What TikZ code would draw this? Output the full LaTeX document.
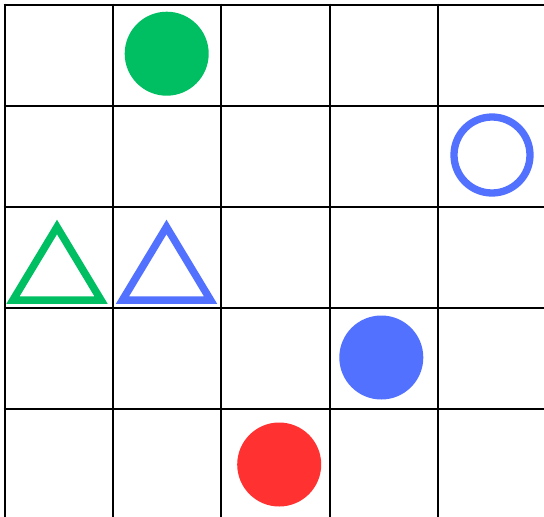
\documentclass[tikz,border=0pt]{standalone}
\definecolor{mygreen}{RGB}{0,191,99}
\definecolor{myblue}{RGB}{82,113,255}
\definecolor{myred}{RGB}{255,49,49}
\tikzset{
  gridline/.style={line width=2.6pt, black},
  ring/.style={line width=7.3pt},
  tri/.style={line width=7.5pt, line join=miter, miter limit=10}
}
\begin{document}
\begin{tikzpicture}[x=1pt,y=-1pt]
\useasboundingbox (0,0) rectangle (544,517);
\fill[white] (0,0) rectangle (544,517);
\begin{scope}
\clip (0,0) rectangle (544,517);
\foreach \x in {5,113,221,330,438} \draw[gridline] (\x,3.7) -- (\x,530);
\foreach \y in {5,106,207,308,409} \draw[gridline] (3.7,\y) -- (560,\y);
\end{scope}
% green filled circle
\fill[mygreen] (166.7,53.7) circle (42);
% blue ring
\draw[myblue, ring] (492,155) circle (38);
% triangles
\draw[mygreen, tri] (57,227) -- (101,300) -- (13,300) -- cycle;
\draw[myblue, tri] (166.5,227) -- (210.5,300) -- (122.5,300) -- cycle;
% blue filled circle
\fill[myblue] (381.3,357.5) circle (42);
% red filled circle
\fill[myred] (279.2,464.5) circle (42);
\end{tikzpicture}
\end{document}
